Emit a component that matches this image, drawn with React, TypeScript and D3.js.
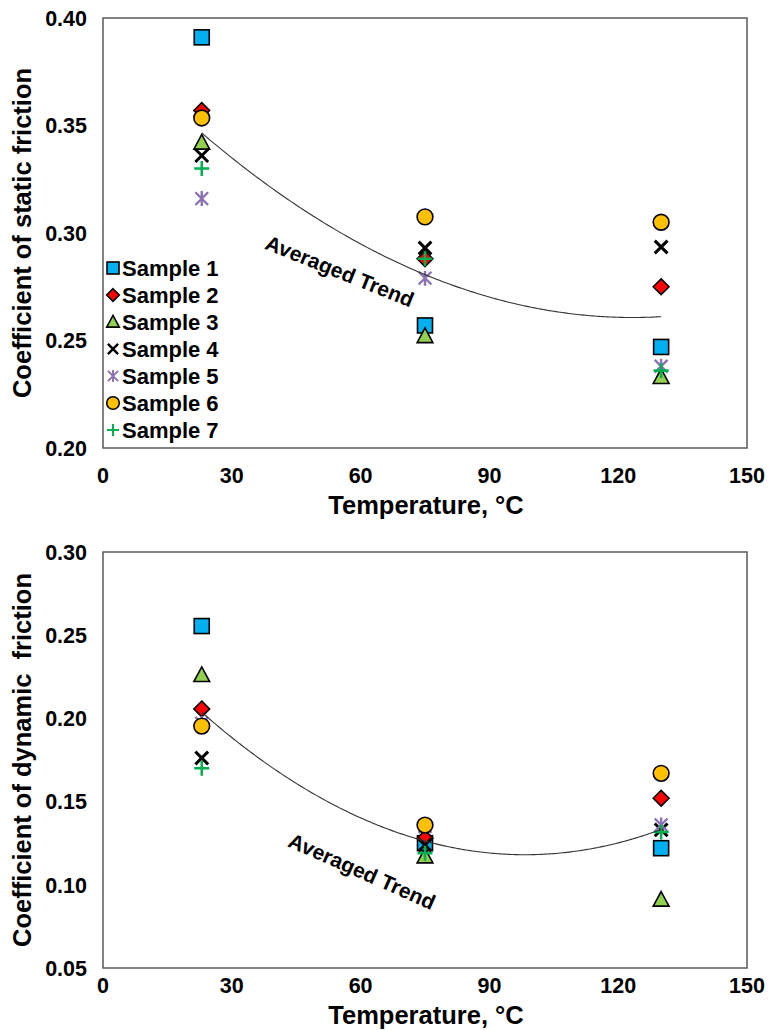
import React from "react";
import * as d3 from "d3";

const temps = [23, 75, 130];
const sampleNames = ["Sample 1", "Sample 2", "Sample 3", "Sample 4", "Sample 5", "Sample 6", "Sample 7"];

// static friction per sample at temps
const staticS1 = [0.391, 0.257, 0.247];
const staticS2 = [0.357, 0.288, 0.275];
const staticS3 = [0.342, 0.252, 0.233];
const staticS4 = [0.336, 0.293, 0.2935];
const staticS5 = [0.316, 0.279, 0.238];
const staticS6 = [0.3535, 0.3075, 0.305];
const staticS7 = [0.330, 0.288, 0.236];

// dynamic friction per sample at temps
const dynS1 = [0.2555, 0.125, 0.122];
const dynS2 = [0.2057, 0.128, 0.152];
const dynS3 = [0.226, 0.117, 0.091];
const dynS4 = [0.1762, 0.124, 0.133];
const dynS5 = [0.197, 0.135, 0.136];
const dynS6 = [0.1954, 0.1359, 0.167];
const dynS7 = [0.170, 0.119, 0.1317];

const xTicks = [0, 30, 60, 90, 120, 150];
const staticYTicks = [0.2, 0.25, 0.3, 0.35, 0.4];
const dynYTicks = [0.05, 0.1, 0.15, 0.2, 0.25, 0.3];

type Kind = "square" | "diamond" | "triangle" | "x" | "star" | "circle" | "plus";
const kinds: Kind[] = ["square", "diamond", "triangle", "x", "star", "circle", "plus"];
const fills = ["#00B0F0", "#FF0000", "#92D050", "#000000", "#8B72B5", "#FFC000", "#00B050"];

const FONT = "'Liberation Sans', Arial, sans-serif";

function Marker({ kind, x, y, s, color }: { kind: Kind; x: number; y: number; s: number; color: string }) {
  const h = s / 2;
  const sw = 1.6;
  switch (kind) {
    case "square":
      return <rect x={x - h} y={y - h} width={s} height={s} fill={color} stroke="#000" strokeWidth={sw} />;
    case "diamond":
      return (
        <path d={`M${x},${y - h * 1.05}L${x + h * 1.05},${y}L${x},${y + h * 1.05}L${x - h * 1.05},${y}Z`} fill={color} stroke="#000" strokeWidth={sw} />
      );
    case "triangle":
      return (
        <path d={`M${x},${y - h * 1.1}L${x + h * 1.05},${y + h * 0.85}L${x - h * 1.05},${y + h * 0.85}Z`} fill={color} stroke="#000" strokeWidth={sw} />
      );
    case "circle":
      return <circle cx={x} cy={y} r={h * 1.05} fill={color} stroke="#000" strokeWidth={sw} />;
    case "x":
      return (
        <path d={`M${x - h * 0.85},${y - h * 0.85}L${x + h * 0.85},${y + h * 0.85}M${x - h * 0.85},${y + h * 0.85}L${x + h * 0.85},${y - h * 0.85}`} stroke={color} strokeWidth={s * 0.2} fill="none" />
      );
    case "star":
      return (
        <path d={`M${x - h * 0.85},${y - h * 0.85}L${x + h * 0.85},${y + h * 0.85}M${x - h * 0.85},${y + h * 0.85}L${x + h * 0.85},${y - h * 0.85}M${x},${y - h}L${x},${y + h}`} stroke={color} strokeWidth={s * 0.16} fill="none" />
      );
    case "plus":
      return (
        <path d={`M${x - h},${y}L${x + h},${y}M${x},${y - h}L${x},${y + h}`} stroke={color} strokeWidth={s * 0.17} fill="none" />
      );
  }
  return null;
}

function quadFit(xs: number[], ys: number[]) {
  const [x0, x1, x2] = xs;
  const [y0, y1, y2] = ys;
  return (x: number) =>
    (y0 * (x - x1) * (x - x2)) / ((x0 - x1) * (x0 - x2)) +
    (y1 * (x - x0) * (x - x2)) / ((x1 - x0) * (x1 - x2)) +
    (y2 * (x - x0) * (x - x1)) / ((x2 - x0) * (x2 - x1));
}

type ChartProps = {
  top: number;
  bottom: number;
  yDomain: [number, number];
  yTicks: number[];
  series: number[][];
  yTitle: string;
  titleBaseline: number;
  tickBaseline: number;
  legend: boolean;
  trendLabel: { x: number; y: number; angle: number };
};

function Chart(p: ChartProps) {
  const left = 103;
  const right = 747;
  const x = d3.scaleLinear().domain([0, 150]).range([left, right]);
  const y = d3.scaleLinear().domain(p.yDomain).range([p.bottom, p.top]);
  const avgs = temps.map((_, i) => d3.mean(p.series, (s) => s[i]) as number);
  const f = quadFit(temps, avgs);
  const xs = d3.range(temps[0], temps[2] + 0.01, 0.5);
  const line = d3
    .line<number>()
    .x((t) => x(t))
    .y((t) => y(f(t)));
  const fmt = d3.format(".2f");
  return (
    <g>
      <rect x={left} y={p.top} width={right - left} height={p.bottom - p.top} fill="#fff" stroke="#5a5a5a" strokeWidth={1.5} />
      {p.yTicks.map((t) => (
        <text key={t} x={87} y={y(t)} dy="0.36em" textAnchor="end" fontFamily={FONT} fontWeight="bold" fontSize={21.5} fill="#000">
          {fmt(t)}
        </text>
      ))}
      {xTicks.map((t) => (
        <text key={t} x={x(t)} y={p.tickBaseline} textAnchor="middle" fontFamily={FONT} fontWeight="bold" fontSize={21.5} fill="#000">
          {t}
        </text>
      ))}
      <text
        transform={`translate(31,${(p.top + p.bottom) / 2}) rotate(-90)`}
        textAnchor="middle"
        fontFamily={FONT}
        fontWeight="bold"
        fontSize={25.5}
        fill="#000"
        style={{ whiteSpace: "pre" }}
      >
        {p.yTitle}
      </text>
      <text x={426} y={p.titleBaseline} textAnchor="middle" fontFamily={FONT} fontWeight="bold" fontSize={25.5} fill="#000">
        Temperature, °C
      </text>
      {kinds.map((k, si) =>
        temps.map((t, i) => (
          <Marker key={`${si}-${i}`} kind={k} x={x(t)} y={y(p.series[si][i])} s={15} color={fills[si]} />
        ))
      )}
      <path d={line(xs) || ""} fill="none" stroke="#333" strokeWidth={1.1} />
      <text
        transform={`translate(${p.trendLabel.x},${p.trendLabel.y}) rotate(${p.trendLabel.angle})`}
        textAnchor="middle"
        fontFamily={FONT}
        fontWeight="bold"
        fontSize={21}
        fill="#000"
      >
        Averaged Trend
      </text>
      {p.legend &&
        sampleNames.map((n, i) => (
          <g key={n}>
            <Marker kind={kinds[i]} x={113} y={268 + i * 27} s={12} color={fills[i]} />
            <text x={122} y={268 + i * 27} dy="0.36em" fontFamily={FONT} fontWeight="bold" fontSize={22} fill="#000">
              {n}
            </text>
          </g>
        ))}
    </g>
  );
}

export default function App() {
  const staticSeries = [staticS1, staticS2, staticS3, staticS4, staticS5, staticS6, staticS7];
  const dynSeries = [dynS1, dynS2, dynS3, dynS4, dynS5, dynS6, dynS7];
  return (
    <svg width={770} height={1030} style={{ position: "absolute", left: 0, top: 0, background: "#fff" }}>
      <rect width={770} height={1030} fill="#fff" />
      <Chart
        top={18}
        bottom={448}
        yDomain={[0.2, 0.4]}
        yTicks={staticYTicks}
        series={staticSeries}
        yTitle="Coefficient of static friction"
        titleBaseline={514}
        tickBaseline={483}
        legend={true}
        trendLabel={{ x: 337, y: 278, angle: 22 }}
      />
      <Chart
        top={552}
        bottom={968}
        yDomain={[0.05, 0.3]}
        yTicks={dynYTicks}
        series={dynSeries}
        yTitle="Coefficient of dynamic  friction"
        titleBaseline={1024}
        tickBaseline={993}
        legend={false}
        trendLabel={{ x: 359, y: 878, angle: 24 }}
      />
    </svg>
  );
}
